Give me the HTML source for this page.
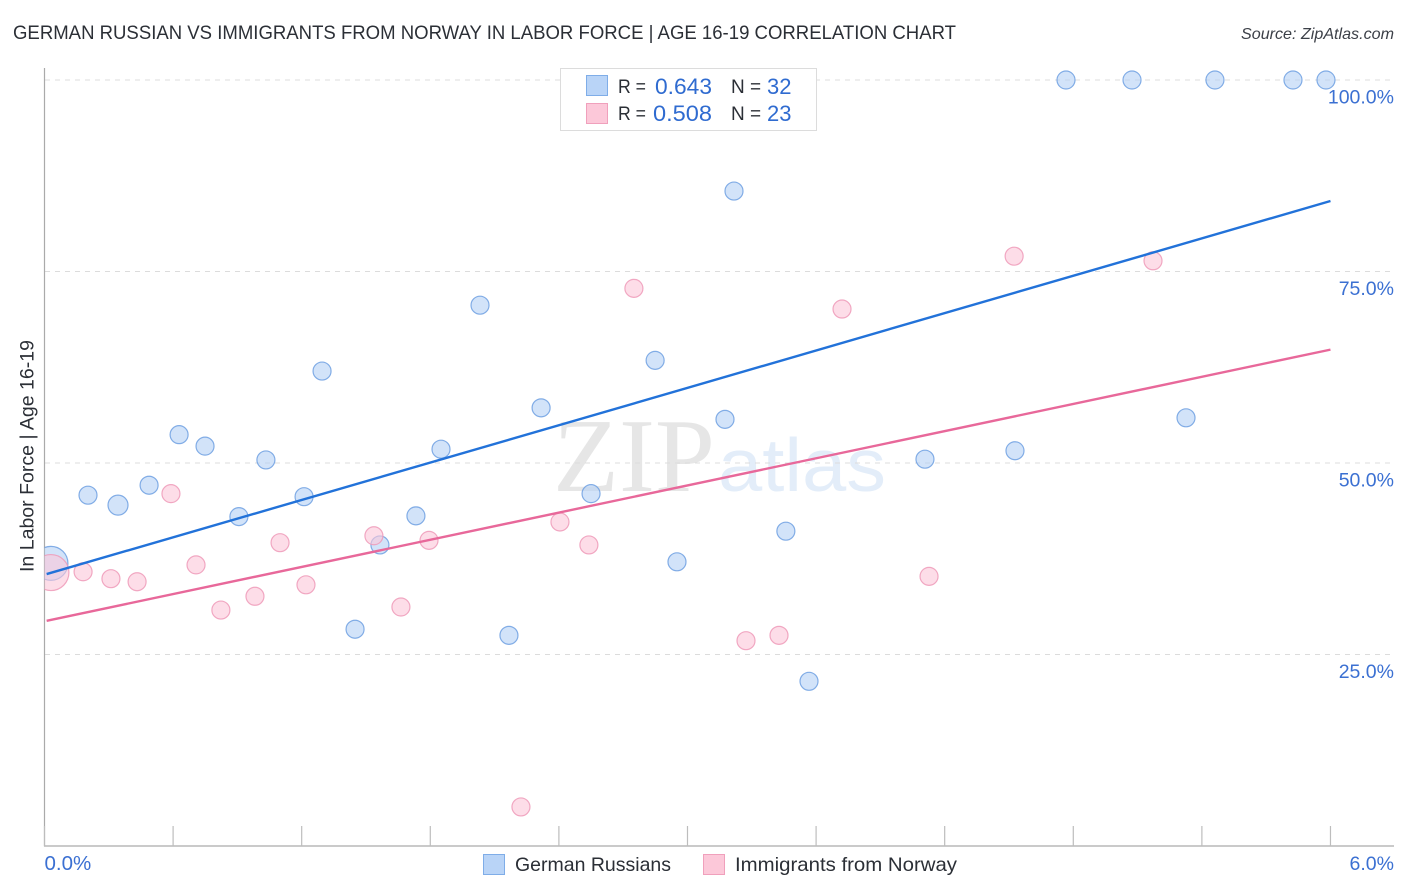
<!DOCTYPE html>
<html lang="en">
<head>
<meta charset="utf-8">
<title>German Russian vs Immigrants from Norway in Labor Force | Age 16-19 Correlation Chart</title>
<style>
html,body{margin:0;padding:0;background:#fff;width:1406px;height:892px;overflow:hidden}
svg{display:block}
text{font-family:"Liberation Sans",sans-serif}
</style>
</head>
<body>
<svg id="chart" xmlns="http://www.w3.org/2000/svg" width="1406" height="892" viewBox="0 0 1406 892">
  <defs>
    <clipPath id="plot-clip"><rect x="44.5" y="60" width="1350" height="786"/></clipPath>
  </defs>
  <text x="13" y="39" font-size="19.5" fill="#2b2f36" textLength="943" lengthAdjust="spacingAndGlyphs">GERMAN RUSSIAN VS IMMIGRANTS FROM NORWAY IN LABOR FORCE | AGE 16-19 CORRELATION CHART</text>
  <text x="1241" y="39" font-size="16" font-style="italic" fill="#3c4048" textLength="153" lengthAdjust="spacingAndGlyphs">Source: ZipAtlas.com</text>

  <g>
    <text x="553" y="491" font-size="105" fill="#e6e6e6" style="font-family:'Liberation Serif',serif" textLength="162" lengthAdjust="spacingAndGlyphs">ZIP</text>
    <text x="718" y="491" font-size="75" fill="#e3edf9" textLength="168" lengthAdjust="spacingAndGlyphs">atlas</text>
  </g>

  <g id="grid"></g>
  <g id="axes"></g>
  <g id="points" clip-path="url(#plot-clip)"></g>
  <g id="trends"></g>
  <g id="ylabels"></g>
  <g id="xlabels"></g>

  <text transform="translate(33.5 572) rotate(-90)" font-size="19.5" fill="#2b2f36" textLength="232" lengthAdjust="spacingAndGlyphs">In Labor Force | Age 16-19</text>

  <g>
    <rect x="560.5" y="68.5" width="256" height="62" fill="#fff" stroke="#dcdcdc" stroke-width="1"/>
    <rect x="586.5" y="75.5" width="21" height="20" fill="#b9d4f7" stroke="#7fade8" stroke-width="1"/>
    <rect x="586.5" y="103.5" width="21" height="20" fill="#fcc8d9" stroke="#f0a0bc" stroke-width="1"/>
    <text x="618" y="93" font-size="19" fill="#2b2f36" textLength="28" lengthAdjust="spacingAndGlyphs">R =</text>
    <text x="655" y="94" font-size="22" fill="#2f6bd0" textLength="57" lengthAdjust="spacingAndGlyphs">0.643</text>
    <text x="731" y="93" font-size="19" fill="#2b2f36">N =</text>
    <text x="767" y="94" font-size="22" fill="#2f6bd0">32</text>
    <text x="618" y="120" font-size="19" fill="#2b2f36" textLength="28" lengthAdjust="spacingAndGlyphs">R =</text>
    <text x="653" y="121" font-size="22" fill="#2f6bd0" textLength="59" lengthAdjust="spacingAndGlyphs">0.508</text>
    <text x="731" y="120" font-size="19" fill="#2b2f36">N =</text>
    <text x="767" y="121" font-size="22" fill="#2f6bd0">23</text>
  </g>

  <g>
    <rect x="483.5" y="854.5" width="21" height="20" fill="#b9d4f7" stroke="#7fade8" stroke-width="1"/>
    <text x="515" y="871" font-size="19.5" fill="#2b2f36" textLength="156" lengthAdjust="spacingAndGlyphs">German Russians</text>
    <rect x="703.5" y="854.5" width="21" height="20" fill="#fcc8d9" stroke="#f0a0bc" stroke-width="1"/>
    <text x="735" y="871" font-size="19.5" fill="#2b2f36" textLength="222" lengthAdjust="spacingAndGlyphs">Immigrants from Norway</text>
  </g>
</svg>
<script>
// X position in percent, Y value in percent, marker size weight
const blueX = [0.03,0.203,0.343,0.488,0.628,0.749,0.907,1.033,1.211,1.295,1.449,1.565,1.733,1.850,2.032,2.167,2.317,2.550,2.849,2.951,3.175,3.217,3.459,3.567,4.108,4.528,4.766,5.074,5.326,5.461,5.825,5.979];
const blueY = [36.9,45.8,44.5,47.1,53.7,52.2,43.0,50.4,45.6,62.0,28.3,39.3,43.1,51.8,70.6,27.5,57.2,46.0,63.4,37.1,55.7,85.5,41.1,21.5,50.5,51.6,100,100,55.9,100,100,100];
const blueSize = [17,9,10,9,9,9,9,9,9,9,9,9,9,9,9,9,9,9,9,9,9,9,9,9,9,9,9,9,9,9,9,9];
const pinkX = [0.03,0.180,0.310,0.432,0.590,0.707,0.823,0.982,1.099,1.220,1.537,1.663,1.794,2.223,2.405,2.540,2.750,3.273,3.427,3.721,4.127,4.524,5.172];
const pinkY = [35.7,35.8,34.9,34.5,46.0,36.7,30.8,32.6,39.6,34.1,40.5,31.2,39.9,5.1,42.3,39.3,72.8,26.8,27.5,70.1,35.2,77.0,76.4];
const pinkSize = [18,9,9,9,9,9,9,9,9,9,9,9,9,9,9,9,9,9,9,9,9,9,9];
const blueTrendX = [0.01,6];
const blueTrendY = [35.5,84.2];
const pinkTrendX = [0.01,6];
const pinkTrendY = [29.4,64.8];
const yTicks = [100,75,50,25];
const yTickLabels = ["100.0%","75.0%","50.0%","25.0%"];
const xTicks = [0,0.6,1.2,1.8,2.4,3,3.6,4.2,4.8,5.4,6];
const xEndTicks = [0,6];
const xEndLabels = ["0.0%","6.0%"];

const NS = 'http://www.w3.org/2000/svg';
function xScale(v){ return 44.5 + v * 214.33; }
function yScale(v){ return 846 - v * 7.66; }
function make(parent, tag, attrs){
  const el = document.createElementNS(NS, tag);
  for (const k in attrs) el.setAttribute(k, attrs[k]);
  parent.appendChild(el);
  return el;
}
const grid = document.getElementById('grid');
const axes = document.getElementById('axes');
const pointsG = document.getElementById('points');
const trends = document.getElementById('trends');
const ylabels = document.getElementById('ylabels');
const xlabels = document.getElementById('xlabels');

yTicks.forEach(function(t){
  const line = make(grid, 'line', {x1:45, x2:1394, y1:yScale(t), y2:yScale(t), stroke:'#dcdcdc', 'stroke-width':1, 'stroke-dasharray':'5 5'});
  
  
});

const yAxis = make(axes, 'line', {x1:44.5, x2:44.5, y1:68, y2:846.5, stroke:'#aaaaaa', 'stroke-width':1.2});


const xAxis = make(axes, 'line', {x1:44, x2:1394, y1:846, y2:846, stroke:'#aaaaaa', 'stroke-width':1.2});


xTicks.forEach(function(t){
  const tick = make(axes, 'line', {x1:xScale(t), x2:xScale(t), y1:826, y2:846, stroke:'#bdbdbd', 'stroke-width':1.2});
  
  
});

function drawPoints(xs, ys, sizes, fill, stroke, name){
  xs.forEach(function(x, i){
    const c = make(pointsG, 'circle', {cx:xScale(x), cy:yScale(ys[i]), r:sizes[i], fill:fill, 'fill-opacity':0.6, stroke:stroke, 'stroke-opacity':0.85, 'stroke-width':1.2});
    
    
  });
}
drawPoints(blueX, blueY, blueSize, '#b4d0f5', '#6fa0e2', 'point-german-russians');
drawPoints(pinkX, pinkY, pinkSize, '#fbc6d8', '#ee9ab8', 'point-immigrants-norway');

const blueLine = make(trends, 'line', {x1:xScale(blueTrendX[0]), y1:yScale(blueTrendY[0]), x2:xScale(blueTrendX[1]), y2:yScale(blueTrendY[1]), stroke:'#2272d9', 'stroke-width':2.4});


const pinkLine = make(trends, 'line', {x1:xScale(pinkTrendX[0]), y1:yScale(pinkTrendY[0]), x2:xScale(pinkTrendX[1]), y2:yScale(pinkTrendY[1]), stroke:'#e8689a', 'stroke-width':2.4});



yTicks.forEach(function(t, i){
  const label = make(ylabels, 'text', {x:1394, y:yScale(t) + 23.5, 'font-size':19.5, fill:'#3b70d2', 'text-anchor':'end'});
  label.textContent = yTickLabels[i];
  
  
});
xEndTicks.forEach(function(t, i){
  const label = make(xlabels, 'text', {x: i === 0 ? xScale(t) : 1394, y:870, 'font-size': i === 0 ? 20.5 : 19.5, fill:'#3b70d2', 'text-anchor': i === 0 ? 'start' : 'end'});
  label.textContent = xEndLabels[i];
  
  
});
</script>
</body>
</html>
